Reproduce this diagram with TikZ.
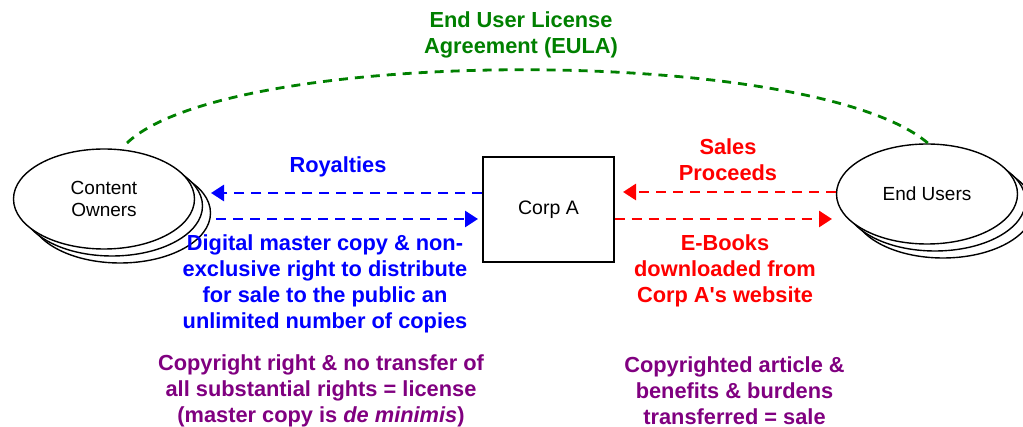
\documentclass[tikz,border=0pt]{standalone}
\usepackage{fontspec}
\setmainfont{Liberation Sans}
\usetikzlibrary{shapes.geometric,arrows.meta}
\definecolor{eulagreen}{RGB}{0,128,0}
\definecolor{flowblue}{RGB}{0,0,255}
\definecolor{flowred}{RGB}{255,0,0}
\definecolor{notepurple}{RGB}{128,0,128}
\begin{document}
\begin{tikzpicture}[x=1pt,y=-1pt,
  party/.style={ellipse,draw,line width=1.4pt,fill=white,
    minimum width=181pt,minimum height=100pt,inner sep=0pt,
    font=\fontsize{19}{22}\selectfont,align=center},
  firm/.style={rectangle,draw,line width=1.2pt,fill=white,
    minimum width=131pt,minimum height=105pt,inner sep=0pt,
    font=\fontsize{19.5}{22}\selectfont},
  flow/.style={line width=2.8pt,dash pattern=on 10pt off 7pt,
    -{Triangle[length=13pt,width=16pt]}},
  caption/.style={font=\bfseries\fontsize{21.8}{26}\selectfont,
    align=center,inner sep=0pt}]
\useasboundingbox (0,0) rectangle (1023,427);

% stacked ellipses: content owners
\node[party] (co3) at (120,213) {};
\node[party] (co2) at (112,206) {};
\node[party] (co)  at (104,199) {Content\\Owners};

% stacked ellipses: end users
\node[party] (eu3) at (943,208) {};
\node[party] (eu2) at (935,201) {};
\node[party] (eu)  at (927,194) {End Users};

% intermediary
\node[firm] (corp) at (548.5,209.5) {Corp A};

% arrow end points
\coordinate (royEnd) at (211,193);
\coordinate (copyStart) at (216,219);
\coordinate (copyEnd) at (478,219);
\coordinate (procEnd) at (623,192);
\coordinate (bookEnd) at (832,219);

% blue flows
\draw[flow,flowblue] (corp.west |- royEnd) -- (royEnd);
\draw[flow,flowblue] (copyStart) -- (copyEnd);

% red flows
\draw[flow,flowred] (eu.west |- procEnd) -- (procEnd);
\draw[flow,flowred] (corp.east |- bookEnd) -- (bookEnd);

% EULA arc
\coordinate (arcL) at (127,143);
\coordinate (arcR) at (930,145);
\draw[eulagreen,line width=2.8pt,dash pattern=on 9pt off 7pt]
  (arcL) .. controls (230,45) and (820,45) .. (arcR);

% labels
\node[caption,text=eulagreen,font=\bfseries\fontsize{21.8}{26.5}\selectfont]
  (eula) at (521,35) {End User License\\Agreement (EULA)};
\node[caption,text=flowblue] (roy) at (338,167) {Royalties};
\node[caption,text=flowblue] (copy) at (325,284)
  {Digital master copy \& non-\\exclusive right to distribute\\for sale to the public an\\unlimited number of copies};
\node[caption,text=flowred] (proc) at (728,160) {Sales\\Proceeds};
\node[caption,text=flowred] (books) at (725,271)
  {E-Books\\downloaded from\\Corp A\textquotesingle s website};
\node[caption,text=notepurple] (lic) at (321,391)
  {Copyright right \& no transfer of\\all substantial rights = license\\(master copy is \textit{de minimis})};
\node[caption,text=notepurple] (sale) at (734.5,391)
  {Copyrighted article \&\\benefits \& burdens\\transferred = sale};
\end{tikzpicture}
\end{document}
